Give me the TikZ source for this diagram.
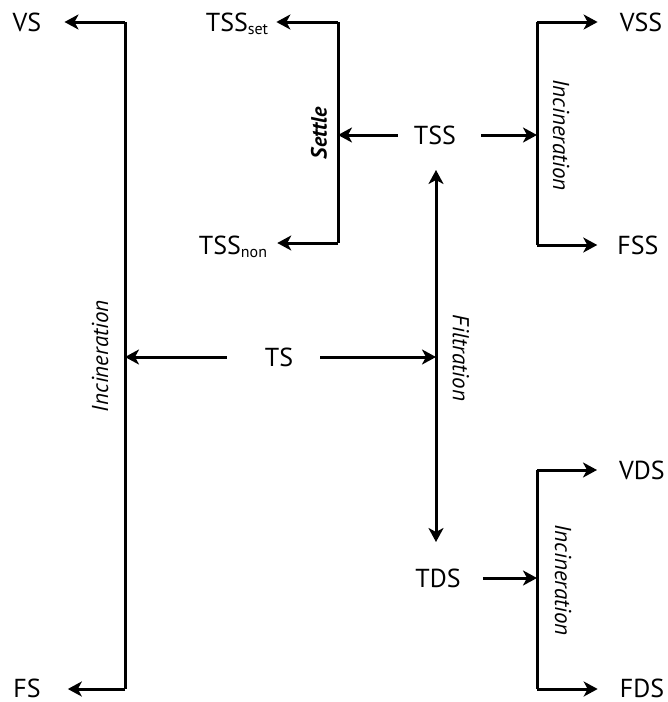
\documentclass[tikz,border=0pt]{standalone}
\usepackage{fontspec}
\setmainfont{PT Sans}
\usetikzlibrary{arrows.meta}
\newcommand{\sbs}[1]{\raisebox{-3pt}{\fontsize{16}{16}\selectfont #1}}
\begin{document}
\begin{tikzpicture}[x=1pt,y=-1pt,
  lbl/.style={inner sep=0pt,font=\fontsize{26}{26}\selectfont},
  proc/.style={inner sep=0pt,font=\fontsize{23}{23}\selectfont\itshape},
  conn/.style={line width=3pt,line join=miter},
  arr/.style={conn,-{Stealth[length=14pt,width=15pt,inset=4pt]}},
  darr/.style={conn,{Stealth[length=14pt,width=15pt,inset=4pt]}-{Stealth[length=14pt,width=15pt,inset=4pt]}}]
\useasboundingbox (0,0) rectangle (668,702);
% text nodes
\node[lbl,anchor=base] (VS) at (27,31) {VS};
\node[lbl,anchor=base] (FS) at (27,697) {FS};
\node[lbl,anchor=base] (TS) at (279,366) {TS};
\node[lbl,anchor=base] (TSSset) at (237,31) {TSS\sbs{set}};
\node[lbl,anchor=base] (TSSnon) at (233,254) {TSS\sbs{non}};
\node[lbl,anchor=base] (TSS) at (435,144) {TSS};
\node[lbl,anchor=base] (VSS) at (641,31) {VSS};
\node[lbl,anchor=base] (FSS) at (638,254) {FSS};
\node[lbl,anchor=base] (TDS) at (438,587) {TDS};
\node[lbl,anchor=base] (VDS) at (642,479) {VDS};
\node[lbl,anchor=base] (FDS) at (642,697) {FDS};
% junction coordinates
\coordinate (Ltop) at (125,22);
\coordinate (Lbot) at (125,689);
\coordinate (Lmid) at (125,357);
\coordinate (Stop) at (338,22);
\coordinate (Sbot) at (338,243);
\coordinate (Smid) at (338,135);
\coordinate (Rtop) at (537,22);
\coordinate (Rbot) at (537,245);
\coordinate (Rmid) at (537,135);
\coordinate (Ftop) at (436,170);
\coordinate (Fbot) at (436,542);
\coordinate (Fmid) at (436,357);
\coordinate (Dtop) at (537,470);
\coordinate (Dbot) at (537,689);
\coordinate (Dmid) at (537,578);
% process labels
\node[proc,rotate=90] (inc1) at (100,356) {Incineration};
\node[proc,rotate=90,font=\fontsize{22}{22}\selectfont\bfseries\itshape] (settle) at (319,133) {Settle};
\node[proc,rotate=-90] (inc2) at (561,135) {Incineration};
\node[proc,rotate=-90] (filt) at (461,358) {Filtration};
\node[proc,rotate=-90] (inc3) at (563,580) {Incineration};
% left incineration bracket
\draw[conn] (Ltop) -- (Lbot);
\draw[arr] (Ltop) -- ([xshift=23pt]Ltop -| VS.east);
\draw[arr] (Lbot) -- ([xshift=27pt]Lbot -| FS.east);
\draw[arr] ([xshift=-38pt]Lmid -| TS.west) -- (Lmid);
\draw[arr] ([xshift=27pt]Fmid -| TS.east) -- (Fmid);
% settle bracket
\draw[conn] (Stop) -- (Sbot);
\draw[arr] (Stop) -- ([xshift=8pt]Stop -| TSSset.east);
\draw[arr] (Sbot) -- ([xshift=10pt]Sbot -| TSSnon.east);
\draw[arr] ([xshift=-16pt]Smid -| TSS.west) -- (Smid);
% right incineration bracket (TSS)
\draw[conn] (Rtop) -- (Rbot);
\draw[arr] ([xshift=25pt]Rmid -| TSS.east) -- (Rmid);
\draw[arr] (Rtop) -- ([xshift=-22pt]Rtop -| VSS.west);
\draw[arr] (Rbot) -- ([xshift=-20pt]Rbot -| FSS.west);
% filtration
\draw[darr] (Ftop) -- (Fbot);
% TDS incineration bracket
\draw[conn] (Dtop) -- (Dbot);
\draw[arr] ([xshift=22pt]Dmid -| TDS.east) -- (Dmid);
\draw[arr] (Dtop) -- ([xshift=-22pt]Dtop -| VDS.west);
\draw[arr] (Dbot) -- ([xshift=-22pt]Dbot -| FDS.west);
\end{tikzpicture}
\end{document}
